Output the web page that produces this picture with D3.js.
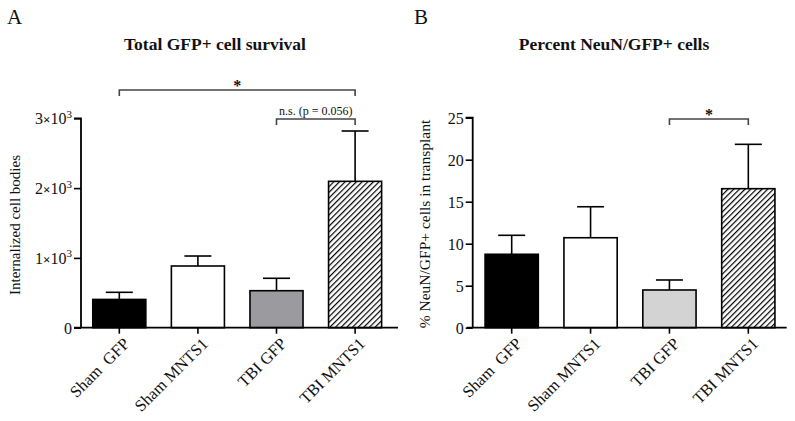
<!DOCTYPE html>
<html>
<head>
<meta charset="utf-8">
<script src="https://cdn.jsdelivr.net/npm/d3@7"></script>
<style>
  body { margin: 0; background: #fff; }
  text { font-family: "Liberation Serif", "Times New Roman", serif; fill: #111; }
</style>
</head>
<body>
<script>
// data
var groups = ["Sham  GFP", "Sham MNTS1", "TBI GFP", "TBI MNTS1"];
var survivalMean = [405, 884, 530, 2097];
var survivalErr = [507, 1027, 708, 2818];
var neunMean = [8.74, 10.71, 4.49, 16.55];
var neunErr = [11.0, 14.4, 5.68, 21.83];
var survivalTicks = [0, 1000, 2000, 3000];
var neunTicks = [0, 5, 10, 15, 20, 25];
var fillsA = ["#000", "#fff", "#9b9b9f", "url(#hatch)"];
var fillsB = ["#000", "#fff", "#d3d3d3", "url(#hatch)"];

var svg = d3.select("body").append("svg")
    .attr("width", 795)
    .attr("height", 421);

// hatch pattern for the last bar
var pat = svg.append("defs").append("pattern")
    .attr("id", "hatch")
    .attr("patternUnits", "userSpaceOnUse")
    .attr("width", 4)
    .attr("height", 4)
    .attr("patternTransform", "rotate(45)");
pat.append("rect").attr("width", 4).attr("height", 4).attr("fill", "#fff");
pat.append("line").attr("x1", 0).attr("y1", 0).attr("x2", 0).attr("y2", 4)
    .attr("stroke", "#000").attr("stroke-width", 2.4);

function panel(opt) {
  var g = svg.append("g");

  var x = d3.scaleBand()
      .domain(groups)
      .range(opt.xRange)
      .paddingInner(0.325)
      .paddingOuter(0.1625);

  var y = d3.scaleLinear()
      .domain(opt.yDomain)
      .range([327.7, opt.yTop]);

  // bars
  g.selectAll("rect.bar")
    .data(opt.mean)
    .enter()
    .append("rect")
    .attr("class", "bar")
    .attr("x", function(d, i) { return x(groups[i]); })
    .attr("y", function(d) { return y(d); })
    .attr("width", x.bandwidth())
    .attr("height", function(d) { return y(0) - y(d); })
    .attr("fill", function(d, i) { return opt.fills[i]; })
    .attr("stroke", "#000")
    .attr("stroke-width", 1.6);

  // error bars (upper only)
  var cx = function(i) { return x(groups[i]) + x.bandwidth() / 2; };
  g.selectAll("line.err")
    .data(opt.err)
    .enter()
    .append("line")
    .attr("x1", function(d, i) { return cx(i); })
    .attr("x2", function(d, i) { return cx(i); })
    .attr("y1", function(d, i) { return y(opt.mean[i]); })
    .attr("y2", function(d) { return y(d); })
    .attr("stroke", "#000")
    .attr("stroke-width", 1.6);
  g.selectAll("line.cap")
    .data(opt.err)
    .enter()
    .append("line")
    .attr("x1", function(d, i) { return cx(i) - 13.5; })
    .attr("x2", function(d, i) { return cx(i) + 13.5; })
    .attr("y1", function(d) { return y(d); })
    .attr("y2", function(d) { return y(d); })
    .attr("stroke", "#000")
    .attr("stroke-width", 1.6);

  // y axis
  var yAxis = d3.axisLeft(y)
      .tickValues(opt.ticks)
      .tickSize(7)
      .tickFormat(function() { return ""; });
  var ya = g.append("g")
      .attr("transform", "translate(" + opt.yAxisX + ",0)")
      .call(yAxis);
  ya.select(".domain").attr("stroke-width", 1.8).attr("d",
      "M-7," + y(opt.yDomain[1]) + "H0V" + y(0));
  ya.selectAll(".tick line").attr("stroke-width", 1.6);
  ya.selectAll(".tick text").remove();
  ya.selectAll(".tick").append("text")
      .attr("x", -9)
      .attr("dy", "0.35em")
      .attr("text-anchor", "end")
      .attr("font-size", 16)
      .each(function(d) { opt.label(d3.select(this), d); });

  // x axis
  var xAxis = d3.axisBottom(x).tickSize(6).tickFormat("");
  var xa = g.append("g")
      .attr("transform", "translate(0," + y(0) + ")")
      .call(xAxis);
  xa.select(".domain").attr("stroke-width", 1.8)
      .attr("d", "M" + opt.xLine[0] + ",0H" + opt.xLine[1]);
  xa.selectAll(".tick line").attr("stroke-width", 1.6);
  xa.selectAll(".tick").append("text")
      .attr("transform", "translate(7,13) rotate(-45)")
      .attr("text-anchor", "end")
      .attr("dy", "0.35em")
      .attr("font-size", 16.5)
      .style("white-space", "pre")
      .text(function(d) { return d; });

  // y label
  g.append("text")
      .attr("transform", "translate(" + opt.yLabelX + "," + opt.yLabelY + ") rotate(-90)")
      .attr("text-anchor", "middle")
      .attr("font-size", opt.yLabelSize)
      .text(opt.yLabel);

  // title and panel letter
  g.append("text")
      .attr("x", opt.titleX).attr("y", 50)
      .attr("text-anchor", "middle")
      .attr("font-size", 17.5)
      .attr("font-weight", "bold")
      .text(opt.title);
  g.append("text")
      .attr("x", opt.letterX).attr("y", 24)
      .attr("font-size", 21)
      .text(opt.letter);

  // significance brackets
  opt.brackets.forEach(function(b) {
    var x1 = cx(b.from), x2 = cx(b.to);
    g.append("path")
        .attr("d", "M" + x1 + "," + (b.y + 6) + "V" + b.y + "H" + x2 + "V" + (b.y + 6))
        .attr("fill", "none")
        .attr("stroke", "#444")
        .attr("stroke-width", 1.6);
    g.append("text")
        .attr("x", (x1 + x2) / 2)
        .attr("y", b.y - (b.small ? 4 : -1))
        .attr("text-anchor", "middle")
        .attr("font-size", b.small ? 12 : 16)
        .attr("font-weight", b.small ? "normal" : "bold")
        .attr("fill", "#333")
        .text(b.text);
  });
}

panel({
  xRange: [80, 394.4],
  xLine: [74, 398],
  yDomain: [0, 3000],
  yTop: 118.3,
  yAxisX: 81,
  ticks: survivalTicks,
  mean: survivalMean,
  err: survivalErr,
  fills: fillsA,
  yLabel: "Internalized cell bodies",
  yLabelSize: 15,
  yLabelX: 20,
  yLabelY: 225,
  title: "Total GFP+ cell survival",
  titleX: 215,
  letter: "A",
  letterX: 7,
  label: function(t, d) {
    if (d === 0) { t.text("0"); return; }
    t.append("tspan").text(d / 1000);
    t.append("tspan").attr("font-size", 13).attr("font-weight", "bold").text("\u00d7");
    t.append("tspan").text("10");
    t.append("tspan").attr("font-size", 11).attr("dy", "-0.6em").text("3");
  },
  brackets: [
    {from: 0, to: 3, y: 90, text: "*"},
    {from: 2, to: 3, y: 119, text: "n.s. (p = 0.056)", small: true}
  ]
});

panel({
  xRange: [472.25, 787.75],
  xLine: [466.7, 786.7],
  yDomain: [0, 25],
  yTop: 117.7,
  yAxisX: 472.7,
  ticks: neunTicks,
  mean: neunMean,
  err: neunErr,
  fills: fillsB,
  yLabel: "% NeuN/GFP+ cells in transplant",
  yLabelSize: 15.5,
  yLabelX: 430,
  yLabelY: 224,
  title: "Percent NeuN/GFP+ cells",
  titleX: 614,
  letter: "B",
  letterX: 414,
  label: function(t, d) { t.text(d); },
  brackets: [
    {from: 2, to: 3, y: 119, text: "*"}
  ]
});
</script>
</body>
</html>
